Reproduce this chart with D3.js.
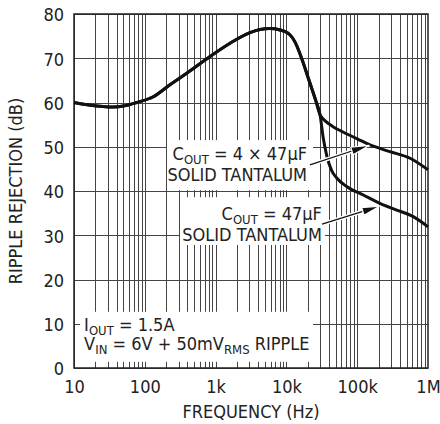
<!DOCTYPE html>
<html>
<head>
<meta charset="utf-8">
<script src="https://cdn.jsdelivr.net/npm/d3@7"></script>
<style>
  body { margin: 0; background: #fff; }
  text { font-family: "Liberation Sans Narrow", "Arial Narrow", "DejaVu Sans Condensed", sans-serif; fill: #222; }
</style>
</head>
<body>
<script>
// frequency axis (Hz) and rejection axis (dB)
var xTicks = [10, 100, 1000, 10000, 100000, 1000000]
var xTickLabels = ['10', '100', '1k', '10k', '100k', '1M']
var yTicks = [0, 10, 20, 30, 40, 50, 60, 70, 80]

// shared part of the response, up to where the two capacitor curves split
var freqMain = [10, 17, 36, 50, 77, 132, 227, 391, 834, 1600, 3060, 4240, 5860, 8120, 11200, 13200, 16400, 20400, 25300, 29900]
var dbMain = [60.0, 59.4, 59.0, 59.2, 60.0, 61.3, 64.0, 66.6, 70.4, 73.4, 75.8, 76.5, 76.7, 76.4, 75.3, 73.7, 70.0, 65.5, 61.0, 57.2]

// COUT = 4 x 47uF tail
var freq4x = [35000, 45000, 60000, 100000, 152000, 290000, 557000, 1000000]
var db4x = [55.9, 54.6, 53.5, 51.8, 50.4, 48.9, 47.4, 44.8]

// COUT = 47uF tail
var freq1x = [33200, 37000, 43600, 51000, 71000, 122000, 209000, 361000, 620000, 1000000]
var db1x = [51.9, 48.1, 44.6, 43.0, 41.0, 39.1, 37.2, 35.7, 34.2, 31.9]

var w = 440
var h = 424
var margin = { top: 14, right: 12, bottom: 56, left: 74 }
var width = w - margin.left - margin.right
var height = h - margin.top - margin.bottom

var svg = d3.select('body')
            .append('svg')
            .attr('width', w)
            .attr('height', h)

var chart = svg.append('g')
              .attr('transform', 'translate(' + margin.left + ',' + margin.top + ')')

var x = d3.scaleLog()
        .domain([10, 1000000])
        .range([0, width])

var y = d3.scaleLinear()
        .domain([0, 80])
        .range([height, 0])

// minor + major log grid
var gridX = []
for (var dec = 10; dec < 1000000; dec *= 10) {
  for (var m = 1; m < 10; m++) gridX.push(dec * m)
}

var grid = chart.append('g').attr('stroke', '#444').attr('stroke-width', 1)
grid.selectAll('.vgrid')
  .data(gridX)
  .enter()
    .append('line')
    .attr('x1', function (d) { return Math.round(x(d)) + 0.5 })
    .attr('x2', function (d) { return Math.round(x(d)) + 0.5 })
    .attr('y1', 0)
    .attr('y2', height)
grid.selectAll('.hgrid')
  .data(yTicks)
  .enter()
    .append('line')
    .attr('x1', 0)
    .attr('x2', width)
    .attr('y1', function (d) { return Math.round(y(d)) + 0.5 })
    .attr('y2', function (d) { return Math.round(y(d)) + 0.5 })

// white label boxes that hide the grid, in data units [f0, f1, db0, db1]
var boxes = [
  [206, 23800, 40.2, 51.5],
  [314, 35000, 27.8, 38.6],
  [12.2, 23800, 1.4, 12.7]
]
chart.selectAll('.box')
  .data(boxes)
  .enter()
    .append('rect')
    .attr('fill', '#fff')
    .attr('x', function (d) { return x(d[0]) })
    .attr('width', function (d) { return x(d[1]) - x(d[0]) })
    .attr('y', function (d) { return y(d[3]) })
    .attr('height', function (d) { return y(d[2]) - y(d[3]) })

// small ticks along the bottom edge (show through the lower box)
chart.selectAll('.btick')
  .data(gridX)
  .enter()
    .append('line')
    .attr('stroke', '#444')
    .attr('x1', function (d) { return Math.round(x(d)) + 0.5 })
    .attr('x2', function (d) { return Math.round(x(d)) + 0.5 })
    .attr('y1', height)
    .attr('y2', height - 5)

// frame
chart.append('rect')
  .attr('x', 0).attr('y', 0)
  .attr('width', width).attr('height', height)
  .attr('fill', 'none')
  .attr('stroke', '#222')
  .attr('stroke-width', 1.5)

// curves
var line = d3.line()
  .x(function (d) { return x(d[0]) })
  .y(function (d) { return y(d[1]) })
  .curve(d3.curveMonotoneX)

var mainPts = d3.zip(freqMain, dbMain)
var seriesA = mainPts.concat(d3.zip(freq4x, db4x))
var seriesB = mainPts.concat(d3.zip(freq1x, db1x))

chart.selectAll('.curve')
  .data([seriesA, seriesB])
  .enter()
    .append('path')
    .attr('d', line)
    .attr('fill', 'none')
    .attr('stroke', '#111')
    .attr('stroke-width', 3)
    .attr('stroke-linejoin', 'round')

// arrows from labels to curves [fromF, fromDb, toF, toDb]
var arrows = [
  [21500, 45.9, 147000, 50.3],
  [31900, 32.5, 210000, 36.6]
]
arrows.forEach(function (a) {
  var x1 = x(a[0]), y1 = y(a[1]), x2 = x(a[2]), y2 = y(a[3])
  var ang = Math.atan2(y2 - y1, x2 - x1)
  var len = 18, hw = 4
  var bx = x2 - len * Math.cos(ang), by = y2 - len * Math.sin(ang)
  var px = -Math.sin(ang) * hw, py = Math.cos(ang) * hw
  var g = chart.append('g')
  g.append('line')
    .attr('x1', x1).attr('y1', y1).attr('x2', bx).attr('y2', by)
    .attr('stroke', '#fff').attr('stroke-width', 4)
  g.append('line')
    .attr('x1', x1).attr('y1', y1).attr('x2', bx).attr('y2', by)
    .attr('stroke', '#111').attr('stroke-width', 1.2)
  g.append('polygon')
    .attr('points', [[x2, y2], [bx + px, by + py], [bx - px, by - py]].join(' '))
    .attr('fill', '#111')
    .attr('stroke', '#fff')
    .attr('stroke-width', 1.2)
    .attr('stroke-linejoin', 'round')
})

// label text with subscripts
function subText (sel, parts) {
  parts.forEach(function (p) {
    if (p.sub) {
      sel.append('tspan').attr('font-size', 13).attr('dy', 4).text(p.t)
      sel.append('tspan').attr('dy', -4).text(' ')
    } else {
      sel.append('tspan').text(p.t)
    }
  })
}

var lab = chart.append('g').attr('font-size', 18)

var t1 = lab.append('text').attr('x', x(23800) - 6).attr('y', y(51.5) + 20).attr('text-anchor', 'end')
subText(t1, [{ t: 'C' }, { t: 'OUT', sub: true }, { t: '= 4 \u00d7 47\u00b5F' }])
lab.append('text').attr('x', x(23800) - 6).attr('y', y(51.5) + 41).attr('text-anchor', 'end').text('SOLID TANTALUM')

var t2 = lab.append('text').attr('x', x(35000) - 3).attr('y', y(38.6) + 23).attr('text-anchor', 'end')
subText(t2, [{ t: 'C' }, { t: 'OUT', sub: true }, { t: '= 47\u00b5F' }])
lab.append('text').attr('x', x(35000) - 3).attr('y', y(38.6) + 44).attr('text-anchor', 'end').text('SOLID TANTALUM')

var t3 = lab.append('text').attr('x', x(12.2) + 4).attr('y', y(12.7) + 19)
subText(t3, [{ t: 'I' }, { t: 'OUT', sub: true }, { t: '= 1.5A' }])
var t4 = lab.append('text').attr('x', x(12.2) + 4).attr('y', y(12.7) + 38)
subText(t4, [{ t: 'V' }, { t: 'IN', sub: true }, { t: '= 6V + 50mV' }, { t: 'RMS', sub: true }, { t: 'RIPPLE' }])

// axes
var xAxis = chart.append('g')
  .attr('transform', 'translate(0,' + height + ')')
  .call(d3.axisBottom(x).tickValues(xTicks).tickFormat(function (d, i) { return xTickLabels[i] }).tickSize(0).tickPadding(12))
xAxis.select('.domain').remove()
xAxis.selectAll('text').attr('font-size', 18).attr('fill', '#222').attr('font-family', null)

var yAxis = chart.append('g')
  .call(d3.axisLeft(y).tickValues(yTicks).tickSize(0).tickPadding(10))
yAxis.select('.domain').remove()
yAxis.selectAll('text').attr('font-size', 18).attr('fill', '#222').attr('font-family', null).attr('dy', '0.38em')

chart.append('text')
  .attr('x', width / 2)
  .attr('y', height + 50)
  .attr('text-anchor', 'middle')
  .attr('font-size', 18)
  .text('FREQUENCY (Hz)')

chart.append('text')
  .attr('transform', 'translate(' + (-52) + ',' + (height / 2) + ') rotate(-90)')
  .attr('text-anchor', 'middle')
  .attr('font-size', 18)
  .text('RIPPLE REJECTION (dB)')
</script>
</body>
</html>
